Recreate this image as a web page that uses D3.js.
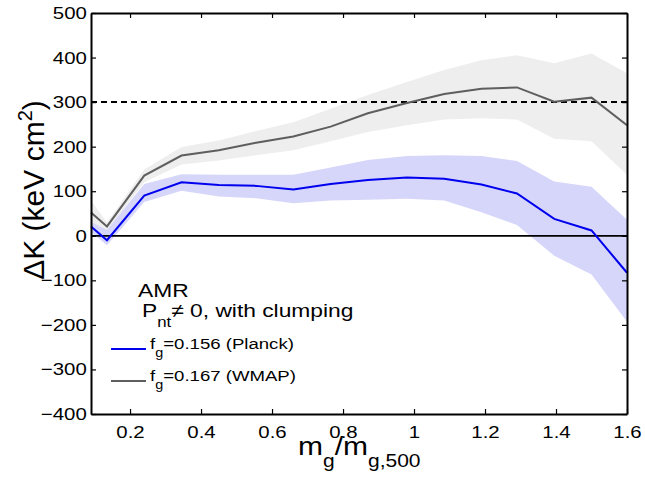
<!DOCTYPE html>
<html>
<head>
<meta charset="utf-8">
<script src="https://cdn.jsdelivr.net/npm/d3@7"></script>
<style>
  body { margin: 0; background: #fff; }
  text { font-family: "Liberation Sans", Arial, Helvetica, sans-serif; fill: #000; }
</style>
</head>
<body>
<svg id="chart" width="645" height="481"></svg>
<script>
/*//////////////////////////////////////////////////////////////////////////*/
//Data
/*//////////////////////////////////////////////////////////////////////////*/
var massRatio = [0.09, 0.135, 0.24, 0.345, 0.45, 0.555, 0.66, 0.765, 0.87, 0.98, 1.085, 1.19, 1.29, 1.395, 1.5, 1.6];

var wmapMean  = [52, 21, 135, 180, 192, 209, 223, 245, 275, 298, 318, 330, 333, 301, 310, 248];
var wmapUpper = [79, 30, 149, 199, 214, 235, 255, 285, 316, 345, 372, 394, 405, 387, 409, 365];
var wmapLower = [30, 10, 120, 160, 169, 181, 192, 212, 233, 248, 261, 264, 261, 218, 212, 137];

var planckMean  = [21, -10, 90, 120, 114, 112, 104, 116, 125, 131, 128, 115, 95, 38, 12, -83];
var planckUpper = [31, 13, 116, 138, 137, 137, 137, 153, 170, 179, 181, 179, 168, 122, 110, 36];
var planckLower = [9, -21, 76, 101, 88, 84, 73, 79, 81, 83, 79, 53, 24, -45, -87, -193];

var xTicks = [0.2, 0.4, 0.6, 0.8, 1, 1.2, 1.4, 1.6];
var yTicks = [-400, -300, -200, -100, 0, 100, 200, 300, 400, 500];
var refLevel = 300;

/*//////////////////////////////////////////////////////////////////////////*/
//Setup
/*//////////////////////////////////////////////////////////////////////////*/
var svg = d3.select("#chart");
var padL = 91, padR = 627, padT = 13, padB = 414;
var stretch = 1.2; /*text in the figure is drawn wide*/

var x = d3.scaleLinear().domain([0.09, 1.6]).range([padL, padR]);
var y = d3.scaleLinear().domain([-400, 500]).range([padB, padT]);

var band = function(lo, hi){
	return d3.area()
		.x(function(d, i){ return x(massRatio[i]); })
		.y0(function(d, i){ return y(lo[i]); })
		.y1(function(d, i){ return y(hi[i]); })(massRatio);
};
var line = function(vals){
	return d3.line()
		.x(function(d, i){ return x(massRatio[i]); })
		.y(function(d){ return y(d); })(vals);
};

var plot = svg.append("g");
plot.append("path").attr("d", band(wmapLower, wmapUpper)).attr("fill", "#eeeeee");
plot.append("path").attr("d", band(planckLower, planckUpper)).attr("fill", "#d6d6fa");

/*reference lines*/
plot.append("line")
	.attr("x1", padL).attr("x2", padR)
	.attr("y1", y(refLevel)).attr("y2", y(refLevel))
	.attr("stroke", "#000").attr("stroke-width", 2).attr("stroke-dasharray", "6,4");
plot.append("line")
	.attr("x1", padL).attr("x2", padR)
	.attr("y1", y(0)).attr("y2", y(0))
	.attr("stroke", "#000").attr("stroke-width", 1.8);

plot.append("path").attr("d", line(wmapMean))
	.attr("fill", "none").attr("stroke", "#5e5e5e").attr("stroke-width", 2);
plot.append("path").attr("d", line(planckMean))
	.attr("fill", "none").attr("stroke", "#0000ee").attr("stroke-width", 2);

/*//////////////////////////////////////////////////////////////////////////*/
//Axes, box with inward ticks
/*//////////////////////////////////////////////////////////////////////////*/
var fmt = d3.format("~g");
var minus = function(d){ return fmt(d).replace("-", "\u2212"); };

var xAxis = svg.append("g").attr("transform", "translate(0," + padB + ")")
	.call(d3.axisBottom(x).tickValues(xTicks).tickFormat(fmt).tickSizeInner(-5).tickSizeOuter(0).tickPadding(12));
var xTop = svg.append("g").attr("transform", "translate(0," + padT + ")")
	.call(d3.axisTop(x).tickValues(xTicks).tickFormat("").tickSizeInner(-5).tickSizeOuter(0));
var yAxis = svg.append("g").attr("transform", "translate(" + padL + ",0)")
	.call(d3.axisLeft(y).tickValues(yTicks).tickFormat(minus).tickSizeInner(-5).tickSizeOuter(0).tickPadding(3.5));
var yRight = svg.append("g").attr("transform", "translate(" + padR + ",0)")
	.call(d3.axisRight(y).tickValues(yTicks).tickFormat("").tickSizeInner(-5).tickSizeOuter(0));

[xAxis, xTop, yAxis, yRight].forEach(function(g){
	g.select(".domain").attr("stroke", "#000").attr("stroke-width", 2);
	g.selectAll(".tick line").attr("stroke", "#000").attr("stroke-width", 1.2);
	g.selectAll("text").attr("font-size", 17).attr("font-family", "Liberation Sans, Arial, sans-serif")
		.attr("fill", "#000").attr("transform", "scale(" + stretch + ",1)");
});
/*keep x tick labels centred on their ticks after the stretch*/
xAxis.selectAll(".tick text").attr("x", 0);

/*//////////////////////////////////////////////////////////////////////////*/
//Labels
/*//////////////////////////////////////////////////////////////////////////*/
var wideText = function(px, py, size){
	return svg.append("g").attr("transform", "translate(" + px + "," + py + ") scale(" + stretch + ",1)")
		.append("text").attr("font-size", size);
};

var xl = wideText(298, 455, 25);
xl.append("tspan").text("m");
xl.append("tspan").attr("font-size", 17.5).attr("dy", 12).text("g");
xl.append("tspan").attr("dy", -12).text("/m");
xl.append("tspan").attr("font-size", 17.5).attr("dy", 12).text("g,500");

var yl = svg.append("text")
	.attr("transform", "translate(44,190) rotate(-90)")
	.attr("text-anchor", "middle").attr("font-size", 30);
yl.append("tspan").text("\u0394K (keV cm");
yl.append("tspan").attr("font-size", 20).attr("dy", -12).text("2");
yl.append("tspan").attr("dy", 12).text(")");

wideText(138, 297, 19).text("AMR");
var pl = wideText(142, 317, 19);
pl.append("tspan").text("P");
pl.append("tspan").attr("font-size", 14).attr("dy", 10).text("nt");
pl.append("tspan").attr("dy", -10).text("\u2260 0, with clumping");

/*legend*/
var legendItems = [
	{label: "=0.156 (Planck)", color: "#0000ee", y: 349},
	{label: "=0.167 (WMAP)", color: "#5e5e5e", y: 381}
];
legendItems.forEach(function(d){
	svg.append("line").attr("x1", 111).attr("x2", 146)
		.attr("y1", d.y).attr("y2", d.y)
		.attr("stroke", d.color).attr("stroke-width", 2);
	var t = wideText(150, d.y, 15.5);
	t.append("tspan").text("f");
	t.append("tspan").attr("font-size", 12).attr("dy", 8).text("g");
	t.append("tspan").attr("dy", -8).text(d.label);
});
</script>
</body>
</html>
